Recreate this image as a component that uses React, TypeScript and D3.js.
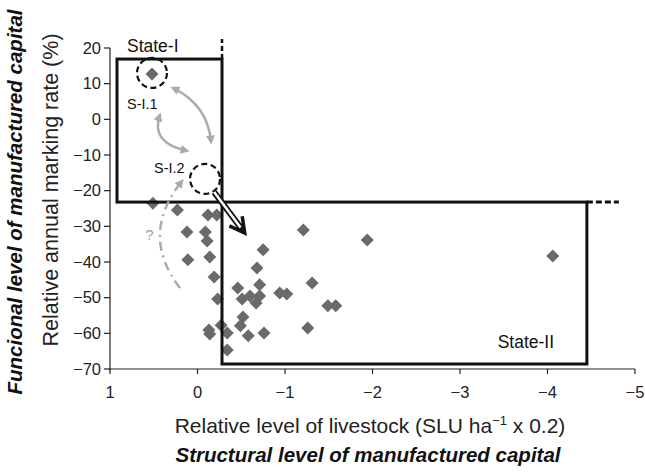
import React from "react";
import * as d3 from "d3";

const xTicks = [1, 0, -1, -2, -3, -4, -5];
const yTicks = [20, 10, 0, -10, -20, -30, -40, -50, -60, -70];

// relative level of livestock (x) and relative annual marking rate (y)
const livestock = [
  0.52, 0.51, 0.23, -0.12, -0.22, 0.12, -0.09, -0.11, 0.11, -0.14,
  -0.19, -0.23, -0.13, -0.14, -0.27, -0.34, -0.34, -0.46, -0.51, -0.6,
  -0.71, -0.67, -0.71, -0.68, -0.75, -0.52, -0.49, -0.58, -0.76, -0.94,
  -1.02, -1.31, -1.49, -1.58, -1.26, -1.21, -1.94, -4.06,
];
const markingRate = [
  12.7, -23.5, -25.4, -26.8, -26.8, -31.6, -31.6, -34.1, -39.4, -38.6,
  -44.2, -50.4, -59.1, -60.2, -57.7, -59.9, -64.7, -47.3, -50.4, -49.5,
  -49.5, -51.5, -46.4, -41.7, -36.6, -55.4, -57.9, -60.7, -59.9, -48.7,
  -49.0, -45.9, -52.3, -52.3, -58.5, -31.0, -33.8, -38.3,
];

// annotation geometry, in data units
const stateOneBox = [0.92, 16.9, -0.28, -23.2];
const stateTwoBox = [-0.28, -23.2, -4.45, -68.6];
const circleCenters = [
  [0.52, 13.0],
  [-0.086, -16.7],
];
// [start, control, end]
const grayArrows = [
  [[0.28, 8.8], [-0.12, 3.9], [-0.154, -6.3]],
  [[0.43, 1.2], [0.54, -6.7], [0.12, -8.8]],
];
const questionArrow = [[0.2, -47.3], [0.67, -32.4], [0.177, -17.3]];
const bigArrow = [[-0.19, -20.4], [-0.54, -31.9]];

const font = "Liberation Sans, Arial, Helvetica, sans-serif";

function Chart() {
  const width = 645;
  const height = 473;

  const xScale = d3.scaleLinear().domain([1, -5]).range([110, 635]);
  const yScale = d3.scaleLinear().domain([-70, 20]).range([369, 48]);
  const fmt = d3.format("d");

  const px = ([x, y]: number[]) => [xScale(x), yScale(y)];

  const curve = (pts: number[][]) => {
    const [s, c, e] = pts.map(px);
    const p = d3.path();
    p.moveTo(s[0], s[1]);
    p.quadraticCurveTo(c[0], c[1], e[0], e[1]);
    return p.toString();
  };

  const boxRect = (b: number[]) => {
    const x0 = xScale(b[0]);
    const x1 = xScale(b[2]);
    const y0 = yScale(b[1]);
    const y1 = yScale(b[3]);
    return { x: x0, y: y0, width: x1 - x0, height: y1 - y0 };
  };
  const box1 = boxRect(stateOneBox);
  const box2 = boxRect(stateTwoBox);

  // big hollow arrow
  const [bs, bt] = bigArrow.map(px);
  const dx = bt[0] - bs[0];
  const dy = bt[1] - bs[1];
  const len = Math.hypot(dx, dy);
  const ux = dx / len;
  const uy = dy / len;
  const nx = -uy;
  const ny = ux;
  const headLen = 15;
  const headHalf = 8;
  const w1 = [bt[0] - headLen * ux + headHalf * nx, bt[1] - headLen * uy + headHalf * ny];
  const w2 = [bt[0] - headLen * ux - headHalf * nx, bt[1] - headLen * uy - headHalf * ny];
  const shaftEnd = [bt[0] - 4 * ux, bt[1] - 4 * uy];

  const diamond = (cx: number, cy: number, r: number) =>
    `M${cx},${cy - r}L${cx + r},${cy}L${cx},${cy + r}L${cx - r},${cy}Z`;

  return (
    <svg
      width={width}
      height={height}
      style={{ position: "absolute", left: 0, top: 0, background: "#fff" }}
      fontFamily={font}
    >
      <defs>
        <marker
          id="grayHead"
          viewBox="0 0 10 10"
          refX="7"
          refY="5"
          markerWidth="3.6"
          markerHeight="3.6"
          orient="auto-start-reverse"
        >
          <path d="M0,0L10,5L0,10Z" fill="#ababab" />
        </marker>
      </defs>

      {/* axes */}
      <line x1={xScale(1)} y1={yScale(20)} x2={xScale(1)} y2={yScale(-70) + 1} stroke="#222" strokeWidth={1.2} />
      <line x1={xScale(1)} y1={yScale(-70)} x2={xScale(-5)} y2={yScale(-70)} stroke="#222" strokeWidth={1.2} />
      {yTicks.map((t) => (
        <g key={t}>
          <line x1={xScale(1) - 6} x2={xScale(1)} y1={yScale(t)} y2={yScale(t)} stroke="#222" strokeWidth={1.2} />
          <text x={xScale(1) - 9} y={yScale(t)} dy="0.35em" textAnchor="end" fontSize={16.5} fill="#222">
            {fmt(t)}
          </text>
        </g>
      ))}
      {xTicks.map((t) => (
        <g key={t}>
          <line x1={xScale(t)} x2={xScale(t)} y1={yScale(-70)} y2={yScale(-70) + 5} stroke="#222" strokeWidth={1.2} />
          <text x={xScale(t)} y={398} textAnchor="middle" fontSize={16.5} fill="#222">
            {fmt(t)}
          </text>
        </g>
      ))}

      {/* axis titles */}
      <text x={370} y={433} textAnchor="middle" fontSize={21} fill="#222">
        Relative level of livestock (SLU ha
        <tspan dy={-8} fontSize={13}>−1</tspan>
        <tspan dy={8}> x 0.2)</tspan>
      </text>
      <text x={368} y={462} textAnchor="middle" fontSize={20.5} fontWeight="bold" fontStyle="italic" fill="#111">
        Structural level of manufactured capital
      </text>
      <text
        transform="translate(58,190) rotate(-90)"
        textAnchor="middle"
        fontSize={21.5}
        fill="#222"
      >
        Relative annual marking rate (%)
      </text>
      <text
        transform="translate(22,202) rotate(-90)"
        textAnchor="middle"
        fontSize={20.5}
        fontWeight="bold"
        fontStyle="italic"
        fill="#111"
      >
        Funcional level of manufactured capital
      </text>

      {/* points */}
      <g>
        {livestock.map((x, i) => (
          <path key={i} d={diamond(xScale(x), yScale(markingRate[i]), 6.5)} fill="#6a6a6a" />
        ))}
      </g>

      {/* state boxes */}
      <rect {...box1} fill="none" stroke="#111" strokeWidth={3} />
      <rect {...box2} fill="none" stroke="#111" strokeWidth={3} />
      <line
        x1={box1.x + box1.width}
        x2={box1.x + box1.width}
        y1={box1.y}
        y2={box1.y - 20}
        stroke="#111"
        strokeWidth={2.5}
        strokeDasharray="5 3"
      />
      <line
        x1={box2.x + box2.width}
        x2={box2.x + box2.width + 32}
        y1={box2.y}
        y2={box2.y}
        stroke="#111"
        strokeWidth={3}
        strokeDasharray="6 3"
      />

      {/* dashed circles */}
      {circleCenters.map((c, i) => {
        const [cx, cy] = px(c);
        return (
          <circle key={i} cx={cx} cy={cy} r={15} fill="none" stroke="#111" strokeWidth={2.2} strokeDasharray="6 3.5" />
        );
      })}

      {/* gray transition arrows */}
      {grayArrows.map((a, i) => (
        <path
          key={i}
          d={curve(a)}
          fill="none"
          stroke="#ababab"
          strokeWidth={2.5}
          markerStart="url(#grayHead)"
          markerEnd="url(#grayHead)"
        />
      ))}
      <path
        d={curve(questionArrow)}
        fill="none"
        stroke="#ababab"
        strokeWidth={2.5}
        strokeDasharray="9 5 2 5"
        markerEnd="url(#grayHead)"
      />
      <text x={xScale(0.55)} y={yScale(-32.4)} dy="0.35em" textAnchor="middle" fontSize={15} fill="#a0a0a0">
        ?
      </text>

      {/* hollow arrow to State-II */}
      <line x1={bs[0]} y1={bs[1]} x2={shaftEnd[0]} y2={shaftEnd[1]} stroke="#111" strokeWidth={6} />
      <line x1={bs[0]} y1={bs[1]} x2={shaftEnd[0] - 3 * ux} y2={shaftEnd[1] - 3 * uy} stroke="#fff" strokeWidth={2.5} />
      <path d={`M${w1[0]},${w1[1]}L${bt[0]},${bt[1]}L${w2[0]},${w2[1]}`} fill="none" stroke="#111" strokeWidth={3.5} />

      {/* labels */}
      <text x={xScale(0.806)} y={yScale(18.9)} fontSize={17.5} fill="#111">
        State-I
      </text>
      <text x={xScale(-3.43)} y={yScale(-64.1)} fontSize={17.5} fill="#111">
        State-II
      </text>
      <text x={xScale(0.806)} y={yScale(2.9)} fontSize={14.5} fill="#111">
        S-I.1
      </text>
      <text x={xScale(0.497)} y={yScale(-15.0)} fontSize={14.5} fill="#111">
        S-I.2
      </text>
    </svg>
  );
}

export default function App() {
  return <Chart />;
}
